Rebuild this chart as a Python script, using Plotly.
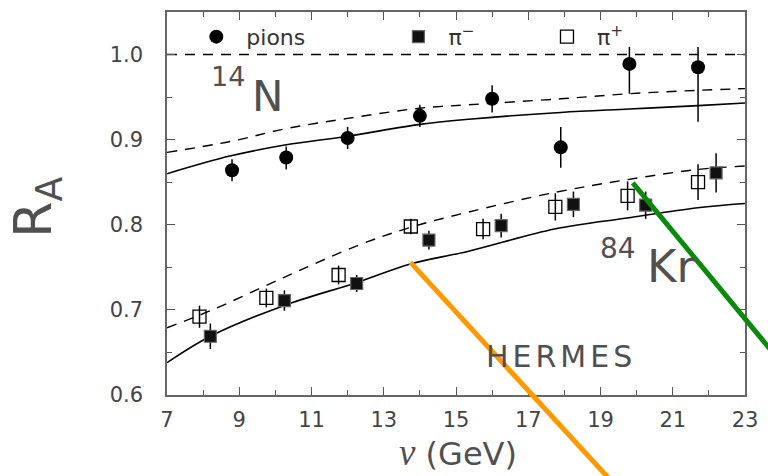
import plotly.graph_objects as go

# ---------------- data ----------------
pions_nu = [8.8, 10.3, 12.0, 14.0, 16.0, 17.9, 19.8, 21.7]
pions_R = [0.864, 0.879, 0.902, 0.928, 0.948, 0.891, 0.989, 0.985]
pions_err_up = [0.013, 0.013, 0.013, 0.013, 0.016, 0.024, 0.020, 0.024]
pions_err_dn = [0.013, 0.014, 0.013, 0.013, 0.016, 0.024, 0.035, 0.064]

pim_nu = [8.2, 10.25, 12.25, 14.25, 16.25, 18.25, 20.25, 22.2]
pim_R = [0.669, 0.711, 0.731, 0.782, 0.799, 0.824, 0.823, 0.861]
pim_err = [0.015, 0.012, 0.010, 0.011, 0.014, 0.015, 0.016, 0.023]

pip_nu = [7.9, 9.75, 11.75, 13.75, 15.75, 17.75, 19.75, 21.7]
pip_R = [0.692, 0.714, 0.741, 0.798, 0.795, 0.821, 0.834, 0.850]
pip_err = [0.013, 0.011, 0.011, 0.009, 0.012, 0.016, 0.017, 0.021]

N_curve_nu = [7.0, 8.77, 10.3, 12.0, 14.0, 15.35, 17.9, 19.8, 21.7, 23.0]
N_solid_R = [0.860, 0.881, 0.894, 0.904, 0.918, 0.924, 0.932, 0.936, 0.940, 0.943]
N_dashed_R = [0.885, 0.898, 0.913, 0.925, 0.937, 0.941, 0.948, 0.954, 0.958, 0.960]

Kr_curve_nu = [7.0, 8.2, 10.23, 12.24, 13.74, 15.35, 17.73, 19.74, 21.69, 23.0]
Kr_solid_R = [0.638, 0.669, 0.705, 0.732, 0.754, 0.769, 0.795, 0.808, 0.820, 0.825]
Kr_dashed_R = [0.679, 0.699, 0.738, 0.775, 0.797, 0.815, 0.838, 0.853, 0.865, 0.869]

unity_level = 1.0
x_ticks = [7, 9, 11, 13, 15, 17, 19, 21, 23]
y_ticks = [0.6, 0.7, 0.8, 0.9, 1.0]

# ---------------- figure ----------------
TXT = "#444444"
FONT = "DejaVu Sans ExtraLight, DejaVu Sans"
LBL = "#505050"

fig = go.Figure()

curve_style = dict(mode="lines", line_shape="spline", showlegend=False, hoverinfo="skip")
fig.add_trace(go.Scatter(x=N_curve_nu, y=N_solid_R, line=dict(color="black", width=1.6), **curve_style))
fig.add_trace(go.Scatter(x=N_curve_nu, y=N_dashed_R, line=dict(color="black", width=1.4, dash="10px,8px"), **curve_style))
fig.add_trace(go.Scatter(x=Kr_curve_nu, y=Kr_solid_R, line=dict(color="black", width=1.6), **curve_style))
fig.add_trace(go.Scatter(x=Kr_curve_nu, y=Kr_dashed_R, line=dict(color="black", width=1.4, dash="10px,8px"), **curve_style))

fig.add_trace(go.Scatter(
    x=pions_nu, y=pions_R, mode="markers", name="pions", legend="legend",
    marker=dict(symbol="circle", size=14, color="black"),
    error_y=dict(type="data", array=pions_err_up, arrayminus=pions_err_dn, symmetric=False,
                 color="black", thickness=1.5, width=0),
))
fig.add_trace(go.Scatter(
    x=pim_nu, y=pim_R, mode="markers", name="π<sup>−</sup>", legend="legend2",
    marker=dict(symbol="square", size=12, color="#111111", line=dict(color="#666666", width=1.2)),
    error_y=dict(type="data", array=pim_err, color="black", thickness=1.5, width=0),
))
fig.add_trace(go.Scatter(
    x=pip_nu, y=pip_R, mode="markers", name="π<sup>+</sup>", legend="legend3",
    marker=dict(symbol="square-open", size=13, color="black", line=dict(width=1.3)),
    error_y=dict(type="data", array=pip_err, color="black", thickness=1.5, width=0),
))

L, R_, T, B = 166.5, 18, 10, 81
W, H = 768, 476
pw, ph = W - L - R_, H - T - B


def px2paper(px, py):
    return (px - L) / pw, (H - B - py) / ph


leg_common = dict(orientation="h", yanchor="middle", xanchor="left", bgcolor="rgba(0,0,0,0)",
                  font=dict(family=FONT, size=22, color="#333333"), itemwidth=50,
                  itemsizing="trace")
lx1, ly = px2paper(186, 35)
lx2, _ = px2paper(390, 35)
lx3, _ = px2paper(540, 35)

shapes = [
    dict(type="line", xref="paper", yref="y", x0=0, x1=1, y0=unity_level, y1=unity_level,
         line=dict(color="black", width=1.4, dash="10px,8px"), layer="below"),
]
o0 = px2paper(412.3, 261.7)
o1 = px2paper(632.1, 500)
g0 = px2paper(636.7, 181.7)
g1 = px2paper(800, 378.6)
shapes.append(dict(type="line", xref="paper", yref="paper", x0=o0[0], y0=o0[1], x1=o1[0], y1=o1[1],
                   line=dict(color="#FF9900", width=5), layer="above"))
shapes.append(dict(type="line", xref="paper", yref="paper", x0=g0[0], y0=g0[1], x1=g1[0], y1=g1[1],
                   line=dict(color="#0A8A0A", width=5), layer="above"))

ytx, yty = px2paper(35, 206)
xtx, xty = px2paper(460, 453)


def txt(text, x, y, size, xanchor="left"):
    return dict(text=text, x=x, y=y, xref="x", yref="y", xanchor=xanchor, yanchor="middle",
                showarrow=False, font=dict(family=FONT, size=size, color=LBL))


annotations = [
    txt("14", 8.15, 0.974, 27),
    txt("N", 9.3, 0.9505, 42),
    txt("84", 18.93, 0.7717, 28),
    txt("Kr", 20.22, 0.7507, 45),
    txt("<span style='letter-spacing:4px'>HERMES</span>", 17.9, 0.6456, 30, "center"),
    dict(text="R<sub>A</sub>", x=ytx, y=yty, xref="paper", yref="paper", xanchor="center", yanchor="middle",
         textangle=-90, showarrow=False, font=dict(family=FONT, size=52, color=LBL)),
    dict(text="<span style='font-family:Liberation Serif;font-size:37px'><i>ν</i></span> (GeV)",
         x=xtx, y=xty, xref="paper", yref="paper", xanchor="center", yanchor="middle",
         showarrow=False, font=dict(family=FONT, size=32, color=LBL)),
]

fig.update_layout(
    width=W, height=H,
    margin=dict(l=L, r=R_, t=T, b=B),
    paper_bgcolor="white", plot_bgcolor="white",
    showlegend=True,
    legend=dict(x=lx1, y=ly, **leg_common),
    legend2=dict(x=lx2, y=ly, **leg_common),
    legend3=dict(x=lx3, y=ly, **leg_common),
    shapes=shapes,
    annotations=annotations,
    font=dict(family=FONT, color=TXT),
)

axis_common = dict(showline=True, linecolor="#666666", linewidth=1.5, mirror="ticks",
                   ticks="inside", tickcolor="#555555", tickwidth=1.3, showgrid=False, zeroline=False,
                   tickfont=dict(family=FONT, size=21, color=TXT))
fig.update_xaxes(range=[7, 23], tickvals=x_ticks, ticklen=8, ticklabelstandoff=5,
                 minor=dict(dtick=1, tick0=7, ticks="inside", ticklen=5, tickcolor="#555555", showgrid=False),
                 **axis_common)
fig.update_yaxes(range=[0.6, 1.05], tickvals=y_ticks, tickformat=".1f", ticklen=8, ticklabelstandoff=18,
                 minor=dict(dtick=0.05, tick0=0.6, ticks="inside", ticklen=5, tickcolor="#555555", showgrid=False),
                 **axis_common)

fig.write_html("out.html")
